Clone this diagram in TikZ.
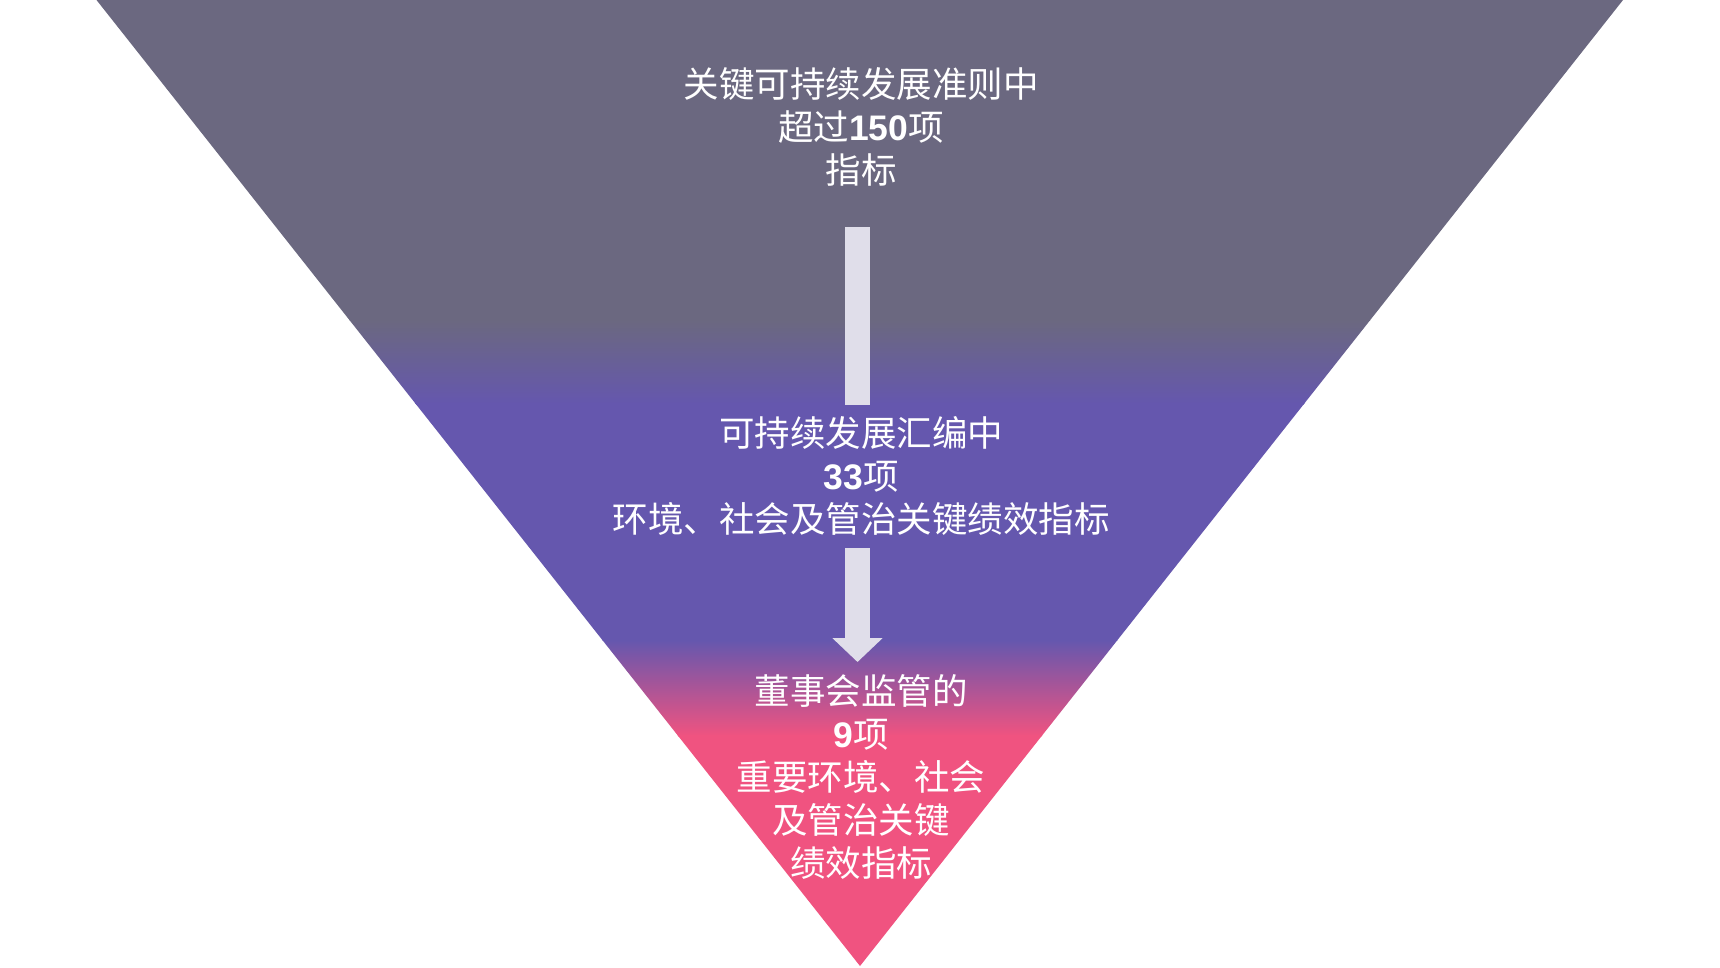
\documentclass[tikz,border=0pt]{standalone}
\usepackage{fontspec}
\newfontfamily\cjk{Noto Sans CJK SC}
\newfontfamily\digf{Liberation Sans}
\usetikzlibrary{arrows.meta}
\definecolor{cgray}{RGB}{107,104,128}
\definecolor{cpurple}{RGB}{101,87,174}
\definecolor{cpink}{RGB}{240,83,128}
\definecolor{carrow}{RGB}{224,222,234}
\tikzset{
  lbl/.style={text=white, align=center, inner sep=0pt,
    font=\cjk\fontsize{35.5}{43}\selectfont},
  bar/.style={draw=carrow, line width=25pt},
}
\newcommand{\bnum}[1]{{\digf\bfseries #1}}
\begin{document}
\begin{tikzpicture}[x=1pt,y=-1pt]
\useasboundingbox (0,0) rectangle (1720,967);
\fill[white] (0,0) rectangle (1720,967);
% funnel
\coordinate (tl) at (96.5,0);
\coordinate (tr) at (1623,0);
\coordinate (bv) at (860,966);
\begin{scope}
  \clip (tl) -- (tr) -- (bv) -- cycle;
  \fill[cgray] (0,0) rectangle (1720,321);
  \shade[top color=cgray, bottom color=cpurple] (0,320) rectangle (1720,404);
  \fill[cpurple] (0,403) rectangle (1720,641);
  \shade[top color=cpurple, bottom color=cpink] (0,640) rectangle (1720,736);
  \fill[cpink] (0,735) rectangle (1720,967);
\end{scope}
% texts
\node[lbl] (t1) at (861,127) {关键可持续发展准则中\\超过\bnum{150}项\\指标};
\node[lbl] (t2) at (861,476) {可持续发展汇编中\\\bnum{33}项\\环境、社会及管治关键绩效指标};
\node[lbl] (t3) at (861,777) {董事会监管的\\\bnum{9}项\\重要环境、社会\\及管治关键\\绩效指标};
% connectors
\coordinate (a1s) at (857.5,227);
\coordinate (a1e) at (857.5,405);
\coordinate (a2s) at (857.5,548);
\coordinate (a2e) at (857.5,662);
\draw[bar] (a1s) -- (a1e);
\draw[bar, -{Triangle[length=24pt 0 0, width=49pt 0 0]}] (a2s) -- (a2e);
\end{tikzpicture}
\end{document}
